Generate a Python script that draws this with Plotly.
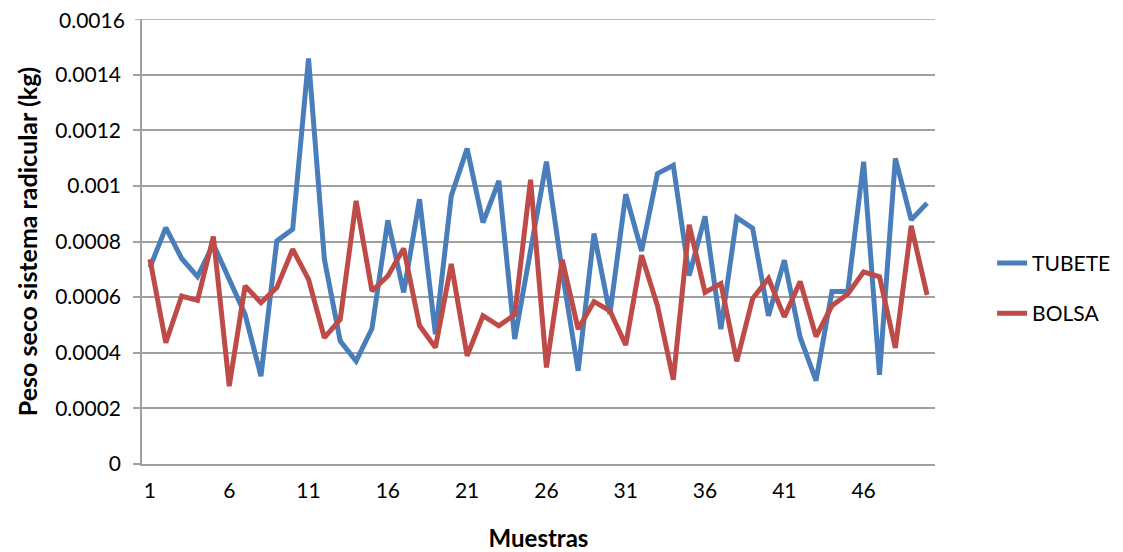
import plotly.graph_objects as go

muestras = list(range(1, 51))
tubete = [0.000706, 0.000850, 0.000739, 0.000674, 0.000790, 0.000660, 0.000538, 0.000316, 0.000802, 0.000844,
          0.001458, 0.000736, 0.000442, 0.000370, 0.000487, 0.000876, 0.000617, 0.000952, 0.000467, 0.000964,
          0.001134, 0.000868, 0.001018, 0.000449, 0.000770, 0.001087, 0.000690, 0.000335, 0.000829, 0.000539,
          0.000970, 0.000766, 0.001044, 0.001074, 0.000677, 0.000890, 0.000485, 0.000886, 0.000848, 0.000533,
          0.000733, 0.000455, 0.000300, 0.000620, 0.000620, 0.001087, 0.000321, 0.001099, 0.000878, 0.000938]
bolsa = [0.000736, 0.000436, 0.000604, 0.000588, 0.000818, 0.000280, 0.000640, 0.000580, 0.000634, 0.000772,
         0.000664, 0.000454, 0.000520, 0.000946, 0.000622, 0.000676, 0.000775, 0.000497, 0.000419, 0.000719,
         0.000389, 0.000533, 0.000497, 0.000537, 0.001022, 0.000347, 0.000734, 0.000485, 0.000584, 0.000551,
         0.000428, 0.000751, 0.000569, 0.000303, 0.000860, 0.000617, 0.000649, 0.000369, 0.000595, 0.000667,
         0.000529, 0.000656, 0.000458, 0.000569, 0.000611, 0.000691, 0.000673, 0.000417, 0.000856, 0.000608]
x_ticks = [1, 6, 11, 16, 21, 26, 31, 36, 41, 46]
y_ticks = [0, 0.0002, 0.0004, 0.0006, 0.0008, 0.001, 0.0012, 0.0014, 0.0016]
y_labels = ["0", "0.0002", "0.0004", "0.0006", "0.0008", "0.001", "0.0012", "0.0014", "0.0016"]

FONT = "Lato, Open Sans, sans-serif"
GRID = "#a0a0a0"

fig = go.Figure()
fig.add_trace(go.Scatter(x=muestras, y=tubete, mode="lines", name="TUBETE", legendgroup="a",
                         line=dict(color="#4A7EBB", width=5)))
fig.add_trace(go.Scatter(x=muestras, y=bolsa, mode="lines", name="BOLSA", legendgroup="b",
                         line=dict(color="#BE4B48", width=5)))

# Plotly drops the grid line / label sitting exactly on the top edge; draw that one explicitly.
top_val, top_lbl = y_ticks[-1], y_labels[-1]
fig.add_shape(type="line", xref="paper", x0=0, x1=1, yref="y", y0=top_val, y1=top_val,
              line=dict(color=GRID, width=1.5), layer="below")
fig.add_shape(type="line", xref="paper", x0=-7 / 793, x1=0, yref="y", y0=top_val, y1=top_val,
              line=dict(color=GRID, width=1.5))
fig.add_annotation(xref="paper", x=0, xanchor="right", xshift=-15, yref="y", y=top_val,
                   yanchor="middle", text=top_lbl, showarrow=False, font=dict(size=21, family=FONT))

fig.update_layout(
    width=1115, height=544,
    margin=dict(l=134, r=188, t=11, b=88, autoexpand=False),
    paper_bgcolor="white", plot_bgcolor="white",
    font=dict(family=FONT, size=21, color="black"),
    legend=dict(x=1.072, y=0.395, xanchor="left", yanchor="middle", tracegroupgap=20,
                font=dict(size=21)),
    xaxis=dict(range=[0.5, 50.5], tickmode="array", tickvals=x_ticks,
               ticktext=[str(v) for v in x_ticks], showgrid=False, zeroline=False,
               showline=True, linecolor=GRID, linewidth=1.5, ticks="", automargin=False,
               ticklabelstandoff=7, tickfont=dict(size=21),
               title=dict(text="<b>Muestras</b>", font=dict(size=24), standoff=30)),
    yaxis=dict(range=[0, 0.0016], tickmode="array", tickvals=y_ticks[:-1], ticktext=y_labels[:-1],
               showgrid=True, gridcolor=GRID, gridwidth=1.5, zeroline=False,
               showline=True, linecolor=GRID, linewidth=1.5, automargin=False,
               ticks="outside", ticklen=7, tickcolor=GRID, tickwidth=1.5,
               ticklabelstandoff=8, tickfont=dict(size=21),
               title=dict(text="<b>Peso seco sistema radicular (kg)</b>", font=dict(size=25), standoff=10)),
)

fig.write_html("out.html")
